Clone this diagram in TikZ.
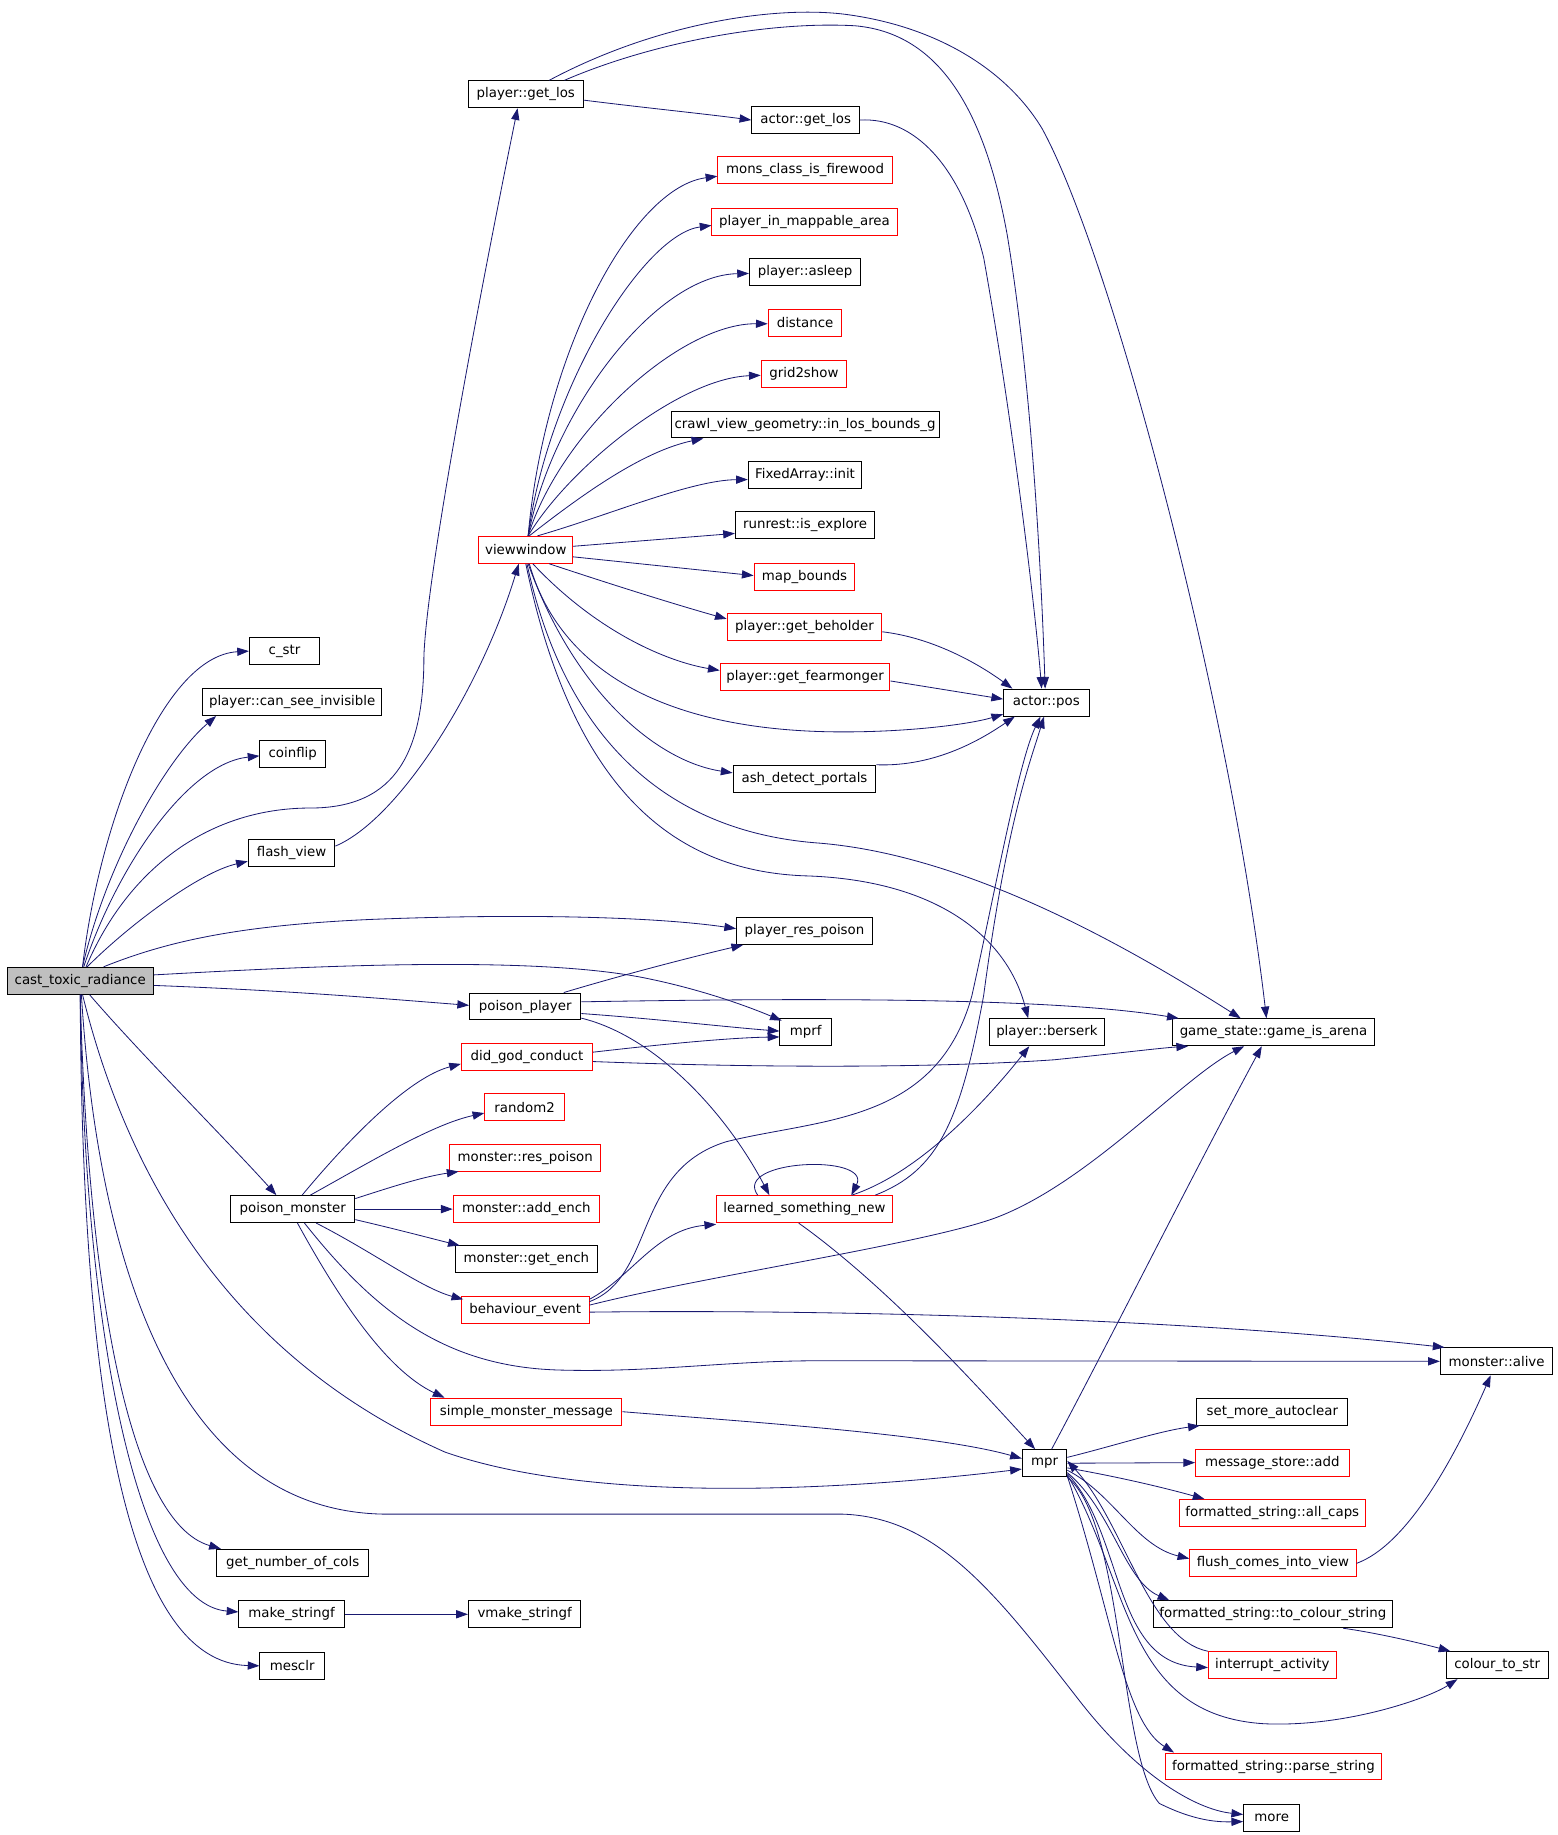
\documentclass[tikz,border=0pt]{standalone}
\usepackage{fontspec}
\setmainfont{DejaVu Sans}
\usetikzlibrary{arrows.meta,calc}
\definecolor{edgec}{HTML}{191970}
\definecolor{rootc}{HTML}{BFBFBF}
\tikzset{
  nb/.style={draw=black,line width=0.85pt,rectangle,minimum height=23pt,inner xsep=3pt,inner ysep=0pt,font=\fontsize{11.4}{13}\selectfont,anchor=center},
  nr/.style={nb,draw=red},
  e/.style={draw=edgec,line width=0.7pt,-{Triangle[length=10pt,width=7pt]}}
}
\begin{document}
\begin{tikzpicture}[x=1pt,y=-1pt]
\useasboundingbox (0,0) rectangle (1330,1567);
% nodes
\node[nb,fill=rootc,minimum width=125pt] (ctr) at (68.5,837.5) {cast\_toxic\_radiance};
\node[nb,minimum width=60pt] (cstr) at (243,556) {c\_str};
\node[nb,minimum width=153pt] (pcsi) at (249.5,599.5) {player::can\_see\_invisible};
\node[nb,minimum width=56pt] (coin) at (250,643.5) {coinflip};
\node[nb,minimum width=74pt] (flash) at (249,728.5) {flash\_view};
\node[nb,minimum width=130pt] (gnc) at (250,1334.5) {get\_number\_of\_cols};
\node[nb,minimum width=90pt] (mks) at (249,1378.5) {make\_stringf};
\node[nb,minimum width=96pt] (vmks) at (448,1378.5) {vmake\_stringf};
\node[nb,minimum width=55pt] (mesclr) at (249.5,1422.5) {mesclr};
\node[nb,minimum width=98pt] (pgl) at (449,80.5) {player::get\_los};
\node[nr,minimum width=80pt] (vw) at (449,469.5) {viewwindow};
\node[nb,minimum width=95pt] (pp) at (448.5,859.5) {poison\_player};
\node[nr,minimum width=112pt] (dgc) at (450,902.5) {did\_god\_conduct};
\node[nr,minimum width=68pt] (rnd) at (448,945.5) {random2};
\node[nr,minimum width=129pt] (mrp) at (448.5,988.5) {monster::res\_poison};
\node[nb,minimum width=106pt] (pm) at (250,1032.5) {poison\_monster};
\node[nr,minimum width=125pt] (mae) at (449.5,1032.5) {monster::add\_ench};
\node[nb,minimum width=121pt] (mge) at (449.5,1075.5) {monster::get\_ench};
\node[nr,minimum width=109pt] (be) at (448.5,1118.5) {behaviour\_event};
\node[nr,minimum width=163pt] (smm) at (449.5,1205.5) {simple\_monster\_message};
\node[nb,minimum width=92pt] (agl) at (688,102.5) {actor::get\_los};
\node[nr,minimum width=149pt] (mcif) at (687.5,145.5) {mons\_class\_is\_firewood};
\node[nr,minimum width=158pt] (pima) at (687,189.5) {player\_in\_mappable\_area};
\node[nb,minimum width=95pt] (pas) at (687.5,232.5) {player::asleep};
\node[nr,minimum width=63pt] (dist) at (687.5,275.5) {distance};
\node[nr,minimum width=73pt] (g2s) at (686.5,319.5) {grid2show};
\node[nb,minimum width=229pt,inner xsep=0.5pt] (cvg) at (687.5,362.5) {crawl\_view\_geometry::in\_los\_bounds\_g};
\node[nb,minimum width=97pt] (fai) at (687.5,405.5) {FixedArray::init};
\node[nb,minimum width=119pt] (rie) at (687.5,448.5) {runrest::is\_explore};
\node[nr,minimum width=86pt] (mb) at (687,492.5) {map\_bounds};
\node[nr,minimum width=132pt] (pgb) at (687,535.5) {player::get\_beholder};
\node[nr,minimum width=145pt] (pgf) at (687.5,578.5) {player::get\_fearmonger};
\node[nb,minimum width=122pt] (adp) at (687,665) {ash\_detect\_portals};
\node[nb,minimum width=116pt] (prp) at (687,795) {player\_res\_poison};
\node[nb,minimum width=44pt] (mprf) at (688,881.5) {mprf};
\node[nr,minimum width=150pt] (lsn) at (687,1032.5) {learned\_something\_new};
\node[nb,minimum width=73pt] (apos) at (893.5,600) {actor::pos};
\node[nb,minimum width=98pt] (pbz) at (894,881.5) {player::berserk};
\node[nb,minimum width=173pt] (gia) at (1087.5,881.5) {game\_state::game\_is\_arena};
\node[nb,minimum width=38pt] (mpr) at (892,1249.5) {mpr};
\node[nb,minimum width=96pt] (malive) at (1278,1162.5) {monster::alive};
\node[nb,minimum width=129pt] (sma) at (1086.5,1205.5) {set\_more\_autoclear};
\node[nr,minimum width=131pt] (msa) at (1086.5,1249) {message\_store::add};
\node[nr,minimum width=159pt] (fsac) at (1086.5,1292) {formatted\_string::all\_caps};
\node[nr,minimum width=142pt] (fciv) at (1087,1335) {flush\_comes\_into\_view};
\node[nb,minimum width=204pt] (ftcs) at (1087,1378.5) {formatted\_string::to\_colour\_string};
\node[nr,minimum width=109pt] (ia) at (1086.5,1422) {interrupt\_activity};
\node[nb,minimum width=87pt] (cts) at (1278.5,1422) {colour\_to\_str};
\node[nr,minimum width=185pt] (fsps) at (1087.5,1508.5) {formatted\_string::parse\_string};
\node[nb,minimum width=48pt] (more) at (1086,1552.5) {more};

% edges from cast_toxic_radiance
\draw[e] ($(ctr.north)+(2,0)$) .. controls (85,700) and (140,560) .. (cstr.west);
\draw[e] ($(ctr.north)+(2,0)$) .. controls (90,740) and (140,650) .. ($(pcsi.south west)+(12,0)$);
\draw[e] ($(ctr.north)+(3,0)$) .. controls (100,740) and (160,652) .. ($(coin.west)+(0,2)$);
\draw[e] ($(ctr.north)+(5,0)$) .. controls (110,740) and (180,690) .. (265,690) .. controls (340,690) and (362,640) .. (362,560) .. controls (365,480) and (420,200) .. ($(pgl.south)+(-7,0)$);
\draw[e] ($(ctr.north)+(6,0)$) .. controls (110,790) and (170,745) .. ($(flash.west)+(0,7)$);
\draw[e] ($(ctr.north)+(20,0)$) .. controls (140,805) and (200,790) .. (320,785) .. controls (450,780) and (560,783) .. ($(prp.west)+(0,-2)$);
\draw[e] ($(ctr.east)+(0,-5)$) .. controls (250,826) and (450,815) .. (550,835) .. controls (600,845) and (640,860) .. ($(mprf.north west)+(2,2)$);
\draw[e] ($(ctr.east)+(0,4)$) .. controls (250,846) and (330,853) .. ($(pp.west)+(0,-1)$);
\draw[e] ($(ctr.south)+(8,0)$) .. controls (120,900) and (195,975) .. ($(pm.north)+(-14,0)$);
\draw[e] ($(ctr.south)+(2,0)$) .. controls (110,1010) and (200,1160) .. (380,1240) .. controls (500,1282) and (700,1275) .. ($(mpr.west)+(0,5)$);
\draw[e] ($(ctr.south)+(1,0)$) .. controls (85,1100) and (160,1292) .. (330,1293) -- (720,1293) .. controls (800,1296) and (850,1360) .. (920,1450) .. controls (970,1515) and (1020,1545) .. ($(more.west)+(0,-3)$);
\draw[e] (ctr.south) .. controls (75,1100) and (110,1300) .. ($(gnc.north west)+(4,0)$);
\draw[e] (ctr.south) .. controls (72,1150) and (120,1370) .. ($(mks.west)+(0,-2)$);
\draw[e] (ctr.south) .. controls (70,1200) and (110,1420) .. (mesclr.west);

% flash_view, make_stringf
\draw[e] ($(flash.east)+(0,-6)$) .. controls (340,700) and (410,590) .. ($(vw.south)+(-6,0)$);
\draw[e] (mks.east) -- (vmks.west);

% player::get_los
\draw[e] ($(pgl.east)+(0,5)$) .. controls (550,92) and (600,97) .. (agl.west);
\draw[e] ($(pgl.north)+(33,0)$) .. controls (560,35) and (660,18) .. (730,22) .. controls (800,28) and (840,90) .. (860,200) .. controls (880,320) and (889,480) .. ($(apos.north)+(-1,0)$);
\draw[e] ($(pgl.north)+(20,0)$) .. controls (560,20) and (660,5) .. (720,12) .. controls (800,22) and (860,60) .. (890,110) .. controls (950,220) and (1050,600) .. ($(gia.north)+(-6,0)$);
\draw[e] (agl.east) .. controls (780,100) and (820,140) .. (840,220) .. controls (865,360) and (884,520) .. ($(apos.north)+(-4,0)$);

% viewwindow fan
\draw[e] ($(vw.north)+(2,0)$) .. controls (465,300) and (540,160) .. ($(mcif.west)+(0,5)$);
\draw[e] ($(vw.north)+(2,0)$) .. controls (468,330) and (550,200) .. ($(pima.west)+(0,3)$);
\draw[e] ($(vw.north)+(2,0)$) .. controls (472,350) and (560,235) .. ($(pas.west)+(0,1)$);
\draw[e] ($(vw.north)+(2,0)$) .. controls (478,370) and (580,276) .. ($(dist.west)+(0,1)$);
\draw[e] ($(vw.north)+(2,0)$) .. controls (485,400) and (580,323) .. ($(g2s.west)+(0,1)$);
\draw[e] ($(vw.north)+(3,0)$) .. controls (500,420) and (550,385) .. ($(cvg.south west)+(28,0)$);
\draw[e] ($(vw.north)+(10,0)$) .. controls (520,440) and (590,410) .. ($(fai.west)+(0,4)$);
\draw[e] ($(vw.east)+(0,-3)$) -- ($(rie.west)+(0,7)$);
\draw[e] ($(vw.east)+(0,6)$) -- ($(mb.west)+(0,-1)$);
\draw[e] ($(vw.south)+(20,0)$) .. controls (540,505) and (590,520) .. ($(pgb.west)+(0,-7)$);
\draw[e] ($(vw.south)+(6,0)$) .. controls (510,540) and (570,565) .. ($(pgf.west)+(0,-6)$);
\draw[e] ($(vw.south)+(3,0)$) .. controls (480,580) and (580,625) .. (720,625) .. controls (780,625) and (830,618) .. ($(apos.south west)+(0,-2)$);
\draw[e] ($(vw.south)+(2,0)$) .. controls (490,590) and (560,650) .. ($(adp.west)+(0,-5)$);
\draw[e] ($(vw.south)+(1,0)$) .. controls (480,620) and (560,710) .. (700,720) .. controls (820,730) and (950,800) .. ($(gia.north)+(-28,0)$);
\draw[e] ($(vw.south)+(0,0)$) .. controls (490,680) and (580,745) .. (690,748) .. controls (800,752) and (860,800) .. ($(pbz.north)+(-16,0)$);

% into actor::pos
\draw[e] ($(pgb.east)+(0,4)$) .. controls (800,545) and (840,570) .. ($(apos.north west)+(8,0)$);
\draw[e] ($(pgf.east)+(0,3)$) -- ($(apos.west)+(0,-3)$);
\draw[e] (adp.north east) .. controls (800,655) and (840,630) .. ($(apos.south west)+(10,0)$);

% poison_player
\draw[e] ($(pp.north east)+(-15,0)$) .. controls (540,830) and (600,815) .. ($(prp.south west)+(6,0)$);
\draw[e] ($(pp.east)+(0,6)$) .. controls (560,870) and (620,877) .. ($(mprf.west)+(0,-1)$);
\draw[e] ($(pp.east)+(0,-4)$) .. controls (700,852) and (900,852) .. ($(gia.north west)+(6,0)$);
\draw[e] ($(pp.south east)+(0,-2)$) .. controls (560,885) and (620,950) .. ($(lsn.north)+(-30,0)$);

% did_god_conduct
\draw[e] ($(dgc.east)+(0,-4)$) .. controls (580,890) and (630,886) .. ($(mprf.west)+(0,4)$);
\draw[e] ($(dgc.east)+(0,4)$) .. controls (650,912) and (800,912) .. (900,905) .. controls (950,900) and (990,895) .. ($(gia.south west)+(14,0)$);

% poison_monster
\draw[e] ($(pm.north)+(8,0)$) .. controls (300,970) and (350,920) .. ($(dgc.west)+(0,6)$);
\draw[e] ($(pm.north)+(15,0)$) .. controls (320,990) and (370,960) .. ($(rnd.west)+(0,5)$);
\draw[e] ($(pm.east)+(0,-9)$) .. controls (330,1015) and (360,1005) .. ($(mrp.south west)+(8,0)$);
\draw[e] (pm.east) -- (mae.west);
\draw[e] ($(pm.east)+(0,9)$) .. controls (340,1050) and (370,1058) .. ($(mge.north west)+(4,0)$);
\draw[e] ($(pm.south)+(20,0)$) .. controls (320,1070) and (360,1100) .. ($(be.north west)+(2,3)$);
\draw[e] ($(pm.south)+(4,0)$) .. controls (290,1110) and (330,1170) .. ($(smm.north west)+(12,0)$);
\draw[e] ($(pm.south)+(10,0)$) .. controls (320,1120) and (380,1168) .. (480,1170) .. controls (560,1172) and (620,1162) .. (700,1162) -- (malive.west);

% behaviour_event
\draw[e] ($(be.east)+(0,-9)$) .. controls (540,1090) and (560,1050) .. ($(lsn.west)+(0,13)$);
\draw[e] ($(be.east)+(0,-7)$) .. controls (560,1090) and (540,1000) .. (620,975) .. controls (700,955) and (800,960) .. (830,850) .. controls (850,760) and (870,650) .. ($(apos.south)+(-5,0)$);
\draw[e] ($(be.east)+(0,-4)$) .. controls (600,1090) and (790,1062) .. (850,1040) .. controls (930,1010) and (1010,920) .. ($(gia.south)+(-25,0)$);
\draw[e] ($(be.east)+(0,2)$) .. controls (700,1118) and (1000,1125) .. ($(malive.north west)+(4,0)$);

% learned_something_new
\draw[e] ($(lsn.north)+(-40,0)$) .. controls (625,990) and (745,985) .. ($(lsn.north)+(40,0)$);
\draw[e] ($(lsn.north east)+(-35,0)$) .. controls (790,1000) and (850,930) .. ($(pbz.south)+(-15,0)$);
\draw[e] ($(lsn.north east)+(-15,0)$) .. controls (800,1000) and (820,960) .. (840,850) .. controls (860,700) and (880,650) .. ($(apos.south)+(-2,0)$);
\draw[e] ($(lsn.south)+(-5,0)$) .. controls (760,1100) and (840,1190) .. ($(mpr.north)+(-8,0)$);

% simple_monster_message
\draw[e] (smm.east) .. controls (650,1215) and (800,1225) .. ($(mpr.west)+(0,-4)$);

% mpr
\draw[e] ($(mpr.north)+(6,0)$) .. controls (950,1140) and (1020,1000) .. ($(gia.south)+(-10,0)$);
\draw[e] ($(mpr.east)+(0,-5)$) .. controls (950,1235) and (990,1222) .. ($(sma.south west)+(3,0)$);
\draw[e] (mpr.east) -- (msa.west);
\draw[e] ($(mpr.east)+(0,4)$) .. controls (960,1262) and (1000,1272) .. ($(fsac.north west)+(22,0)$);
\draw[e] ($(mpr.east)+(0,6)$) .. controls (950,1275) and (970,1320) .. ($(fciv.west)+(0,-4)$);
\draw[e] ($(mpr.east)+(0,8)$) .. controls (950,1290) and (960,1350) .. ($(ftcs.north west)+(14,0)$);
\draw[e] ($(mpr.east)+(0,9)$) .. controls (960,1310) and (950,1420) .. ($(ia.west)+(0,2)$);
\draw[e] ($(mpr.east)+(0,10)$) .. controls (965,1350) and (960,1465) .. (1080,1472) .. controls (1150,1475) and (1220,1450) .. ($(cts.south west)+(10,0)$);
\draw[e] ($(mpr.east)+(0,11)$) .. controls (950,1380) and (960,1470) .. ($(fsps.north west)+(8,0)$);
\draw[e] ($(mpr.south east)+(0,0)$) .. controls (960,1300) and (955,1500) .. (990,1540) .. controls (1020,1555) and (1040,1556) .. ($(more.west)+(0,3)$);
\draw[e] (ia.north west) .. controls (980,1400) and (960,1300) .. ($(mpr.east)+(0,-2)$);
\draw[e] (fciv.east) .. controls (1200,1320) and (1240,1250) .. ($(malive.south)+(-5,0)$);
\draw[e] ($(ftcs.south)+(60,0)$) .. controls (1180,1395) and (1220,1405) .. ($(cts.north west)+(4,0)$);
\end{tikzpicture}
\end{document}
